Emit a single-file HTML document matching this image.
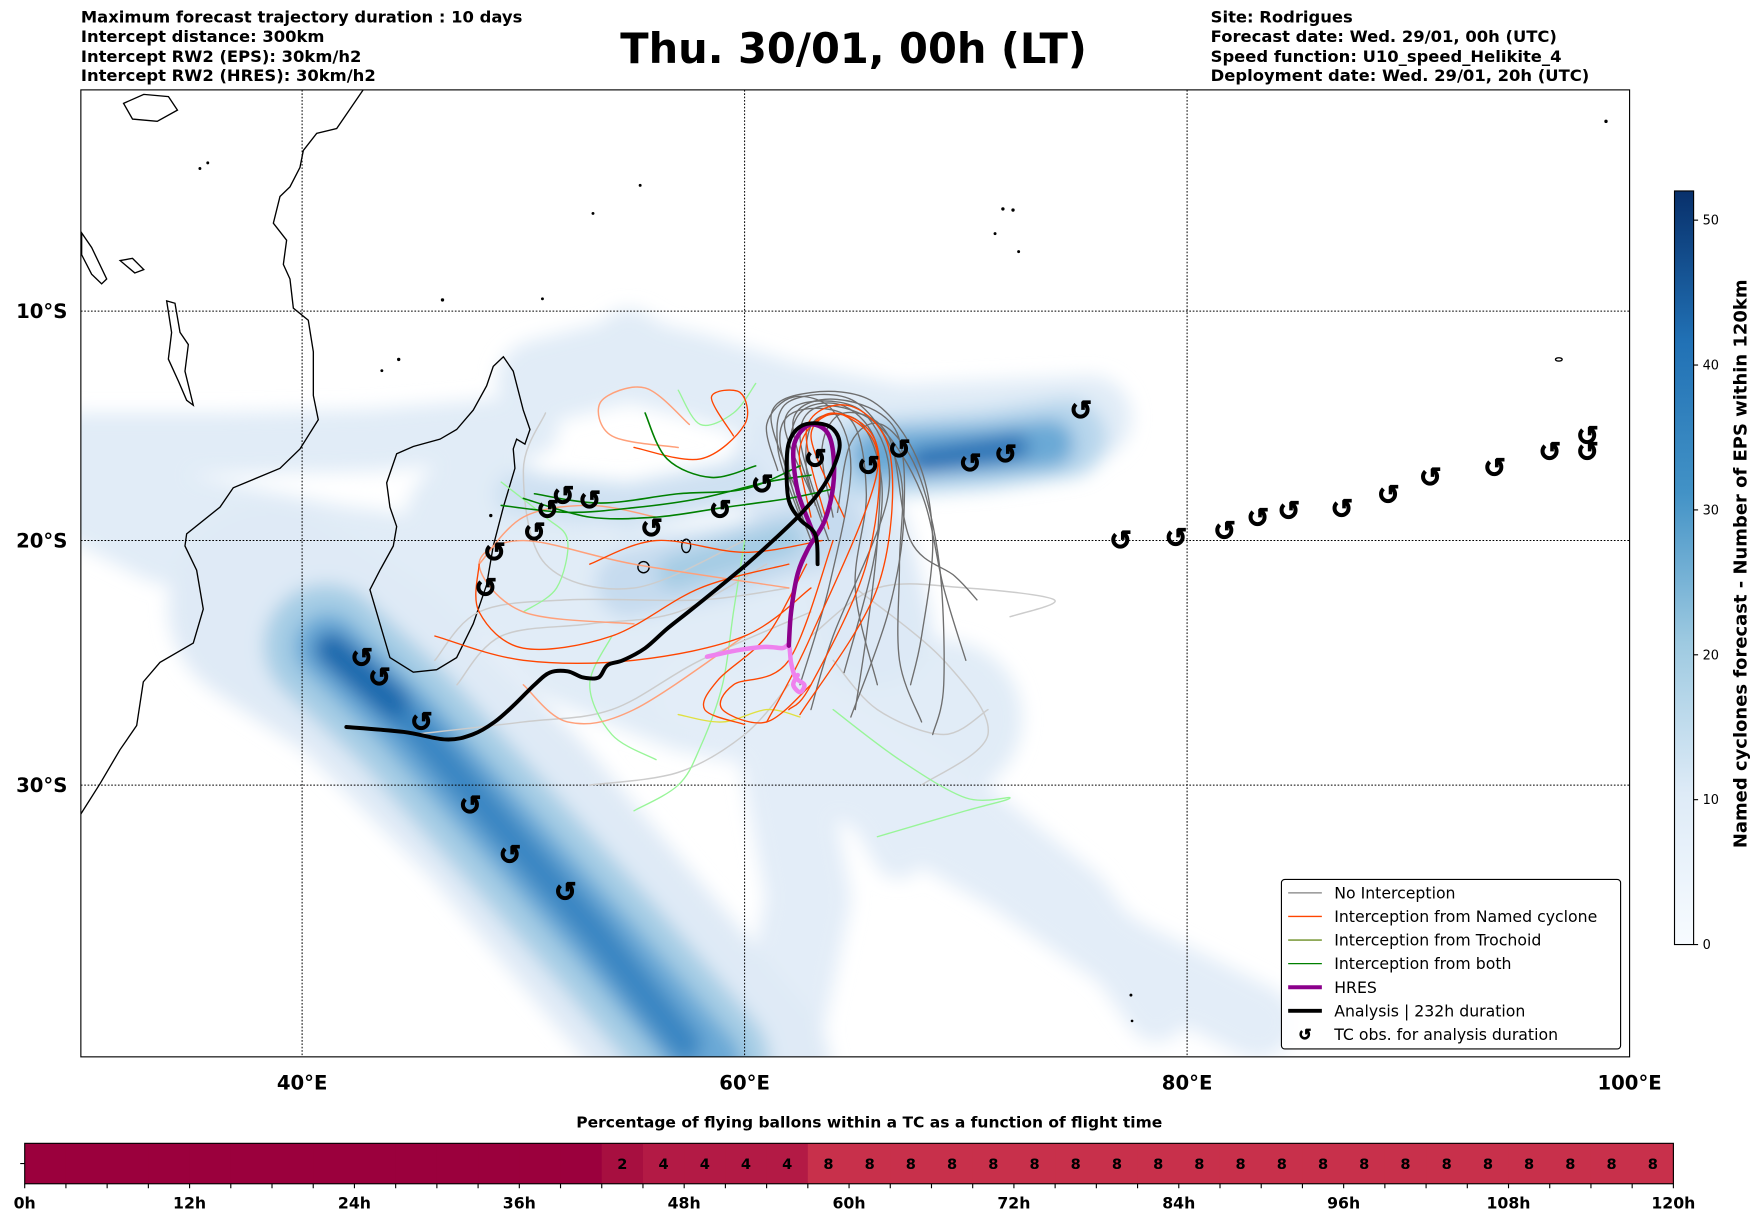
<!DOCTYPE html>
<html><head><meta charset="utf-8"><style>
html,body{margin:0;padding:0;background:#fff}
svg{display:block;font-family:"DejaVu Sans","Liberation Sans",sans-serif}
</style></head><body>
<svg id="fig" width="1752" height="1213" viewBox="0 0 1560 1080" xmlns="http://www.w3.org/2000/svg">
<defs>
<filter id="blur" x="-20%" y="-20%" width="140%" height="140%"><feGaussianBlur stdDeviation="8"/></filter>
<clipPath id="mapclip"><rect x="72" y="80" width="1379" height="861"/></clipPath>
<linearGradient id="cbgrad" x1="0" y1="1" x2="0" y2="0">
<stop offset="0" stop-color="#f7fbff"/><stop offset="0.2" stop-color="#deebf7"/><stop offset="0.4" stop-color="#9ecae1"/><stop offset="0.6" stop-color="#4292c6"/><stop offset="0.8" stop-color="#2171b5"/><stop offset="1" stop-color="#08306b"/>
</linearGradient>
</defs>
<g font-weight="bold" font-size="14.6">
<text x="72" y="20">Maximum forecast trajectory duration : 10 days</text>
<text x="72" y="37.5">Intercept distance: 300km</text>
<text x="72" y="55">Intercept RW2 (EPS):  30km/h2</text>
<text x="72" y="72">Intercept RW2 (HRES): 30km/h2</text>
</g>
<text x="760" y="56" text-anchor="middle" font-weight="bold" font-size="37">Thu. 30/01, 00h (LT)</text>
<g font-weight="bold" font-size="14.6">
<text x="1078" y="20">Site: Rodrigues</text>
<text x="1078" y="37.5">Forecast date: Wed. 29/01, 00h (UTC)</text>
<text x="1078" y="55">Speed function: U10_speed_Helikite_4</text>
<text x="1078" y="72">Deployment date: Wed. 29/01, 20h (UTC)</text>
</g>
<g id="map" clip-path="url(#mapclip)">
<g filter="url(#blur)" fill="none" stroke-linecap="round" stroke-linejoin="round">
<path d="M72,395 L200,395 L330,392 L470,380" stroke="#e1ecf7" stroke-width="55"/>
<path d="M72,430 L150,470 L300,500 L450,520 L620,520 L750,500" stroke="#e1ecf7" stroke-width="100"/>
<path d="M480,340 L560,320 L620,335 L700,360 L800,380 L970,372" stroke="#e1ecf7" stroke-width="75"/>
<path d="M560,305 L600,330" stroke="#e1ecf7" stroke-width="60"/>
<path d="M430,470 L520,560 L620,600 L720,620 L840,640" stroke="#e1ecf7" stroke-width="140"/>
<path d="M620,620 L760,700 L900,780 L1000,850 L1120,910" stroke="#e3edf8" stroke-width="65"/>
<path d="M700,620 L860,720 L960,800 L1030,900" stroke="#e3edf8" stroke-width="55"/>
<path d="M690,640 L720,800 L690,940" stroke="#e3edf8" stroke-width="75"/>
<path d="M240,540 L330,600 L450,720 L560,850 L650,955" stroke="#dfeaf6" stroke-width="180"/>
<path d="M760,690 L800,760" stroke="#e3edf8" stroke-width="45"/>
<path d="M700,420 L760,480 L780,560" stroke="#dde9f6" stroke-width="100"/>
<path d="M290,575 L360,640 L450,740 L540,840 L630,945" stroke="#a6cde5" stroke-width="110"/>
<path d="M292,576 L360,640 L450,740 L540,840 L630,945" stroke="#6aa9d6" stroke-width="60"/>
<path d="M295,578 L370,648 L450,740 L530,830 L610,930" stroke="#3a86c2" stroke-width="30"/>
<path d="M295,578 L350,625" stroke="#1f6aae" stroke-width="30"/>
<path d="M770,408 L880,400 L950,390" stroke="#b7d6ec" stroke-width="70"/>
<path d="M780,405 L880,400 L935,395" stroke="#6aa9d6" stroke-width="42"/>
<path d="M820,410 L905,398" stroke="#2a72b5" stroke-width="22"/>
<path d="M560,520 L650,500 L740,470" stroke="#c6dbef" stroke-width="60"/>
<path d="M600,510 L700,480" stroke="#a5cce4" stroke-width="30"/>
<path d="M460,440 L560,450 L660,430" stroke="#cfe1f2" stroke-width="40"/>
</g>
<g fill="none" stroke="#000" stroke-width="1.2">
<polyline points="323.5,79.8 299.8,114.4 282,118.7 270.1,133.9 267.1,149 258.2,166.3 249.3,174.9 243.4,198.7 255.2,213.8 252.3,235.4 258.2,248.4 261.2,274.3 274.5,285.1 279,313.2 279,352.1 283.4,373.7 267.1,399.7 249.3,417 207.7,434.3 195.9,451.5 166.2,475.3 164.7,486.1 175.1,507.7 181,542.3 172.1,572.6 142.4,589.8 127.6,607.1 121.7,646 106.8,667.6 89,697.9 71.2,726"/>
<polygon points="448.2,317.6 457,330.5 465.9,365.1 471.9,382.4 467.4,395.4 460,391 457,399.7 458.5,417 448.2,451.5 439.2,486.1 433.3,520.7 421.4,555.3 406.6,585.5 388.8,596.3 368,598.5 347.2,585.5 338.3,555.3 329.4,525 338.3,507.7 350.2,486.1 353.2,468.8 347.2,451.5 344.3,429.9 353.2,404 368,397.5 391.8,391 406.6,382.4 421.4,365.1 433.3,343.5 439.2,326.2"/>
<polygon points="148.4,267.9 155.8,270 160.3,295.9 167.7,306.8 164.7,330.5 172.1,360.8 166.2,356.4 158.8,339.2 149.9,319.7 152.8,296"/>
<polygon points="72.7,207.3 81.6,220.3 95,248.4 90.5,252.7 81.6,244.1 72.7,226.8"/>
<polygon points="110,92 128,84 150,86 158,98 140,108 118,106"/>
<polygon points="107,232 118,230 128,240 120,243"/>
<ellipse cx="611" cy="486" rx="4" ry="6"/>
<ellipse cx="573" cy="505" rx="5" ry="5"/>
<ellipse cx="1388" cy="320" rx="3" ry="1.5"/>
<g fill="#000" stroke="none">
<circle cx="893" cy="186" r="1.5"/><circle cx="902" cy="187" r="1.5"/><circle cx="886" cy="208" r="1.3"/><circle cx="907" cy="224" r="1.3"/>
<circle cx="483" cy="266" r="1.3"/><circle cx="394" cy="267" r="1.5"/><circle cx="570" cy="165" r="1.3"/><circle cx="528" cy="190" r="1.3"/>
<circle cx="1007" cy="886" r="1.3"/><circle cx="1008" cy="909" r="1.2"/><circle cx="437" cy="459" r="1.5"/><circle cx="355" cy="320" r="1.5"/><circle cx="340" cy="330" r="1.3"/>
<circle cx="178" cy="150" r="1.3"/><circle cx="185" cy="145" r="1.3"/><circle cx="1430" cy="108" r="1.5"/>
</g>
</g>
<g id="grid" stroke="#000" stroke-width="0.9" stroke-dasharray="1.5,1.5"></g>
<g id="trajs" fill="none" stroke-linecap="round" stroke-linejoin="round"></g>
<g id="tracks" fill="none" stroke-linecap="round" stroke-linejoin="round"></g>
<g id="markers" font-weight="bold" font-size="24" text-anchor="middle" stroke="#000" stroke-width="0.8"></g>
</g>
<rect x="72" y="80" width="1379" height="861" fill="none" stroke="#000" stroke-width="1"/>
<g id="axlabels" font-weight="bold" font-size="17.5"></g>
<g>
<rect x="1141" y="783" width="302" height="151" rx="3" fill="#fff" fill-opacity="0.85" stroke="#000" stroke-width="1"/>
<g font-size="14">
<line x1="1147" y1="795" x2="1177" y2="795" stroke="#808080" stroke-width="1.2"/><text x="1188" y="800">No Interception</text>
<line x1="1147" y1="816" x2="1177" y2="816" stroke="#ff4500" stroke-width="1.2"/><text x="1188" y="821">Interception from Named cyclone</text>
<line x1="1147" y1="837" x2="1177" y2="837" stroke="#6b8e23" stroke-width="1.2"/><text x="1188" y="842">Interception from Trochoid</text>
<line x1="1147" y1="858" x2="1177" y2="858" stroke="#008000" stroke-width="1.2"/><text x="1188" y="863">Interception from both</text>
<line x1="1147" y1="879" x2="1177" y2="879" stroke="#8b008b" stroke-width="3.5"/><text x="1188" y="884">HRES</text>
<line x1="1147" y1="900" x2="1177" y2="900" stroke="#000" stroke-width="3.5"/><text x="1188" y="905">Analysis | 232h duration</text>
<text x="1162" y="926" font-weight="bold" font-size="14" text-anchor="middle" stroke="#000" stroke-width="0.6">↺</text><text x="1188" y="926">TC obs. for analysis duration</text>
</g>
</g>
<g>
<rect x="1491" y="170" width="17" height="671" fill="url(#cbgrad)" stroke="#000" stroke-width="1"/>
<g id="cbticks" font-size="11.5"></g>
<text transform="translate(1555,502) rotate(-90)" text-anchor="middle" font-weight="bold" font-size="16">Named cyclones forecast - Number of EPS within 120km</text>
</g>
<text x="774" y="1004" text-anchor="middle" font-weight="bold" font-size="13.8">Percentage of flying ballons within a TC as a function of flight time</text>
<g id="pbar"></g>
</svg>
<script>
const NS='http://www.w3.org/2000/svg';
// ---- data ----
const gridLons=[40,60,80];
const gridLats=[10,20,30];
const lonTicks=['40°E','60°E','80°E','100°E'];
const lonTickVals=[40,60,80,100];
const latTicks=['10°S','20°S','30°S'];
const latTickVals=[10,20,30];
const cbTickVals=[0,10,20,30,40,50];
const analysisLon=[42.0,44.6,46.5,47.7,48.7,49.6,50.5,51.2,52.0,52.7,53.4,53.8,54.5,55.5,56.5,57.6,58.8,60.1,61.4,62.5,63.4,64.0,64.3,64.0,63.3,62.5,62.0,61.9,62.0,62.5,63.2,63.3];
const analysisLat=[27.7,27.9,28.2,28.0,27.5,26.8,26.0,25.5,25.45,25.7,25.7,25.2,25.0,24.5,23.7,22.9,22.0,21.0,19.9,18.9,17.9,16.9,15.9,15.2,14.95,15.1,15.8,17.0,18.3,19.1,19.75,21.0];
const hresLon=[62.0,62.1,62.4,62.9,63.6,64.0,64.0,63.7,63.0,62.4,62.2,62.4,62.9,63.2];
const hresLat=[24.4,23.0,21.4,20.3,19.2,17.7,16.2,15.3,15.0,15.5,16.3,17.9,19.2,19.9];
const hresEarlyLon=[58.3,59.6,60.9,61.7,62.0,62.1,62.3,62.7,62.5,62.2,62.4];
const hresEarlyLat=[24.85,24.6,24.45,24.5,24.4,25.1,25.7,26.0,26.3,26.0,25.6];
const tcLon=[42.7,43.5,45.4,47.6,49.4,51.9,48.3,48.7,50.5,51.1,51.8,53.0,55.8,58.9,60.8,63.2,65.6,67.0,70.2,71.8,75.2,77.0,79.5,81.7,83.2,84.6,87.0,89.1,91.0,93.9,96.4,98.1,98.1];
const tcLat=[24.9,25.7,27.5,30.8,32.7,34.1,22.0,20.5,19.65,18.7,18.1,18.3,19.5,18.7,17.6,16.5,16.8,16.1,16.7,16.3,14.4,20.0,19.9,19.6,19.05,18.75,18.65,18.05,17.3,16.9,16.2,16.2,15.5];
const noInterTrajs=[
 [[63,20],[62,17],[62.5,14.5],[64.5,14.2],[66,16],[66,20],[65.5,24],[65,27]],
 [[62.5,19],[61.5,16],[62,14],[65,14],[67,17],[67,21],[67,25],[68,27.5]],
 [[63.5,19],[62.5,15.5],[63.5,14.2],[66,15],[68,18],[69,22],[70,25]],
 [[63,18],[61.8,15],[63,14],[65.5,14.6],[66.5,18],[64,24],[63,27]],
 [[64,19],[63.5,16],[64.5,14.5],[66.5,15.5],[67.5,20],[69.5,21.5],[70.5,22.5]],
 [[62.8,19.5],[61.6,15.8],[62.4,14.4],[64.8,14.8],[65.5,18],[65,22],[66,26]],
 [[63.2,18.5],[62.2,14.8],[64.2,13.9],[66.8,15.2],[67.2,19],[66.5,23],[64.8,27.3]],
 [[62.4,18],[61.2,14.6],[63,13.6],[65.8,14],[67.8,16.5],[68.5,20],[68,24],[67.5,26]],
 [[63.8,20],[62.8,17],[63.2,14.8],[65.2,14.9],[66.2,17.5],[65.8,21],[64.5,25.5]],
 [[61.5,17],[61,15],[62.2,13.8],[64,14.4],[64.8,17],[63.8,22],[62.5,26]],
 [[64.2,18.8],[64.8,15.8],[66.2,15],[67.8,17],[68.8,21],[69,26],[68.5,28]]
];
const greyLightTrajs=[
 [[62,22],[58,22.5],[52,22.5],[48,23],[46,25]],
 [[63,23],[58,25],[54,27],[50,27.5],[45,28]],
 [[63,24],[66,22],[70,22],[74,22.5],[72,23.2]],
 [[62,26],[60,28],[57,29.5],[53,30]],
 [[60,20],[55,22],[51,21],[50,17],[51,14.5]],
 [[65,22],[69,25],[71,28],[68,30]],
 [[61,21],[57,23],[53,23.5],[49,24],[47,26]],
 [[64,25],[66,27],[69,28],[71,27]]
];
const namedTrajs=[
 [[63,19],[62.5,16],[64,14.5],[66,16],[65.5,21],[63,26],[62,27]],
 [[62,21],[58,22],[54,24],[50,24.5],[48,23],[48,21]],
 [[63,22],[60,24],[55,25],[50,25],[46,24]],
 [[59.5,15.5],[58.5,13.8],[59.8,13.6],[60,15],[58,16.5],[55,16]],
 [[64,20],[62,25],[59.5,26],[59,27],[61,27.5],[63,26]],
 [[64.5,19],[63,15.5],[64.5,14.6],[66,17],[63,24],[61,27.5]],
 [[63.5,20],[60,20.5],[56,20],[53,21]],
 [[63.8,19.5],[62.8,15.2],[64.8,14.2],[66.6,16.4],[66,22],[62.5,27.2]],
 [[62.8,21],[61,24],[58.8,25.8],[58.2,27],[60,27.6]]
];
const salmonTrajs=[
 [[57.5,15],[55.5,13.4],[53.5,14],[54,15.5],[57,16]],
 [[62,22],[55,21],[50,20],[48,21],[50,23],[55,23.5]],
 [[60,24],[55,27],[52,27.5],[50,26]],
 [[48,21],[50,19],[53,18.5],[56,19]]
];
const bothTrajs=[
 [[49,18.5],[52,18.8],[55,18.6],[58,18.2],[61,17.5],[63,17.2]],
 [[50,18.2],[53,19],[56,19],[59,18.6],[62,18.2],[64,17.8]],
 [[55.5,14.5],[56.5,16.5],[58.5,17.3],[60.5,16.8]],
 [[50.5,18],[53.5,18.4],[57,18],[60,17.8],[62.5,16.8]]
];
const lightGreenTrajs=[
 [[49,17.5],[51,19],[52,20],[51.5,22],[50,23]],
 [[60,20],[59.5,23],[59,26],[58,28.5],[57,30],[55,31]],
 [[64,27],[67,29],[70,30.5],[72,30.5],[70,31],[66,32]],
 [[57,13.5],[58,15],[59.5,14.5],[60.5,13.2]],
 [[54,24],[53,26],[54,28],[56,29]]
];
const trochoidTrajs=[
 [[57,27.2],[59,27.5],[61,27],[62.5,27.3]]
];
const barHours=[0,3,6,9,12,15,18,21,24,27,30,33,36,39,42,45,48,51,54,57,60,63,66,69,72,75,78,81,84,87,90,93,96,99,102,105,108,111,114,117];
const barPct=[0,0,0,0,0,0,0,0,0,0,0,0,0,0,2,4,4,4,4,8,8,8,8,8,8,8,8,8,8,8,8,8,8,8,8,8,8,8,8,8];
const barTickLabels=['0h','12h','24h','36h','48h','60h','72h','84h','96h','108h','120h'];
// ---- scales ----
const MX0=72,MX1=1451,LON0=30,LON1=100;
function xLon(lon){return MX0+(lon-LON0)*(MX1-MX0)/(LON1-LON0);}
function merc(lat){const r=Math.PI/180;return Math.log(Math.tan(Math.PI/4+lat*r/2))/r;}
function yLat(lat){return 79+merc(lat)*19.7;}
const BX0=22,BX1=1490;
function xHour(h){return BX0+h*(BX1-BX0)/120;}
const CB0=841,CBk=12.9;
function yCb(v){return CB0-v*CBk;}
function mk(tag,attrs,parent){const e=document.createElementNS(NS,tag);for(const k in attrs)e.setAttribute(k,attrs[k]);parent.appendChild(e);return e;}
function smooth(pts){
 if(pts.length<3)return 'M'+pts.map(p=>p[0].toFixed(1)+','+p[1].toFixed(1)).join(' L');
 let d='M'+pts[0][0].toFixed(1)+','+pts[0][1].toFixed(1);
 for(let i=0;i<pts.length-1;i++){
  const p0=pts[Math.max(0,i-1)],p1=pts[i],p2=pts[i+1],p3=pts[Math.min(pts.length-1,i+2)];
  const c1=[p1[0]+(p2[0]-p0[0])/6,p1[1]+(p2[1]-p0[1])/6],c2=[p2[0]-(p3[0]-p1[0])/6,p2[1]-(p3[1]-p1[1])/6];
  d+=' C'+c1[0].toFixed(1)+','+c1[1].toFixed(1)+' '+c2[0].toFixed(1)+','+c2[1].toFixed(1)+' '+p2[0].toFixed(1)+','+p2[1].toFixed(1);
 }
 return d;
}
// grid
const grid=document.getElementById('grid');
gridLons.forEach(l=>{const e=mk('line',{x1:xLon(l),x2:xLon(l),y1:80,y2:941},grid);

});
gridLats.forEach(l=>{const e=mk('line',{x1:72,x2:1451,y1:yLat(l),y2:yLat(l)},grid);

});
// axis labels
const ax=document.getElementById('axlabels');
lonTickVals.forEach((v,i)=>{const t=mk('text',{x:xLon(v),y:970,'text-anchor':'middle'},ax);t.textContent=lonTicks[i];

});
latTickVals.forEach((v,i)=>{const t=mk('text',{x:60,y:yLat(v)+6,'text-anchor':'end'},ax);t.textContent=latTicks[i];

});
// trajectories
const tg=document.getElementById('trajs');
function drawSet(set,color,w,name){set.forEach(tr=>{const p=mk('path',{d:smooth(tr.map(q=>[xLon(q[0]),yLat(q[1])])),stroke:color,'stroke-width':w},tg);

});}
drawSet(greyLightTrajs,'#cccccc',1.3,'trajectory-light-grey');
drawSet(lightGreenTrajs,'#98f598',1.2,'trajectory-light-green');
drawSet(salmonTrajs,'#ffa07a',1.3,'trajectory-salmon');
drawSet(trochoidTrajs,'#e0e040',1.2,'trajectory-trochoid');
drawSet(noInterTrajs,'#6e6e6e',1.2,'trajectory-no-interception');
drawSet(namedTrajs,'#ff4500',1.2,'trajectory-named-cyclone');
drawSet(bothTrajs,'#008000',1.4,'trajectory-both');
// tracks
const tk=document.getElementById('tracks');
let p=mk('path',{d:smooth(hresEarlyLon.map((l,i)=>[xLon(l),yLat(hresEarlyLat[i])])),stroke:'#ee82ee','stroke-width':4},tk);


p=mk('path',{d:smooth(hresLon.map((l,i)=>[xLon(l),yLat(hresLat[i])])),stroke:'#8b008b','stroke-width':4},tk);


p=mk('path',{d:smooth(analysisLon.map((l,i)=>[xLon(l),yLat(analysisLat[i])])),stroke:'#000','stroke-width':3.5},tk);


// markers
const mg=document.getElementById('markers');
tcLon.forEach((l,i)=>{const t=mk('text',{x:xLon(l),y:yLat(tcLat[i])+8},mg);t.textContent='↺';

});
// colorbar ticks
const cb=document.getElementById('cbticks');
cbTickVals.forEach(v=>{mk('line',{x1:1508,x2:1512,y1:yCb(v),y2:yCb(v),stroke:'#000'},cb);
const t=mk('text',{x:1516,y:yCb(v)+4},cb);t.textContent=v;

});
// percentage bar
const pb=document.getElementById('pbar');
function pctColor(v){return v>=8?'#c8304b':v>=4?'#b31a45':v>=2?'#a70f40':'#9b003d';}
barHours.forEach((h,i)=>{
 const r=mk('rect',{x:xHour(h),y:1018,width:xHour(h+3)-xHour(h)+0.5,height:36,fill:pctColor(barPct[i])},pb);
 
 
 if(barPct[i]>0){const t=mk('text',{x:xHour(h+1.5),y:1041,'text-anchor':'middle','font-weight':'bold','font-size':13},pb);t.textContent=barPct[i];
 
 }
 mk('line',{x1:xHour(h),x2:xHour(h),y1:1054,y2:1058,stroke:'#000'},pb);
});
mk('line',{x1:xHour(120),x2:xHour(120),y1:1054,y2:1058,stroke:'#000'},pb);
mk('rect',{x:BX0,y:1018,width:BX1-BX0,height:36,fill:'none',stroke:'#000','stroke-width':1},pb);
mk('line',{x1:18,x2:22,y1:1036,y2:1036,stroke:'#000'},pb);
barTickLabels.forEach((s,i)=>{const t=mk('text',{x:xHour(i*12),y:1076,'text-anchor':'middle','font-weight':'bold','font-size':14},pb);t.textContent=s;

});
</script>
</body></html>
